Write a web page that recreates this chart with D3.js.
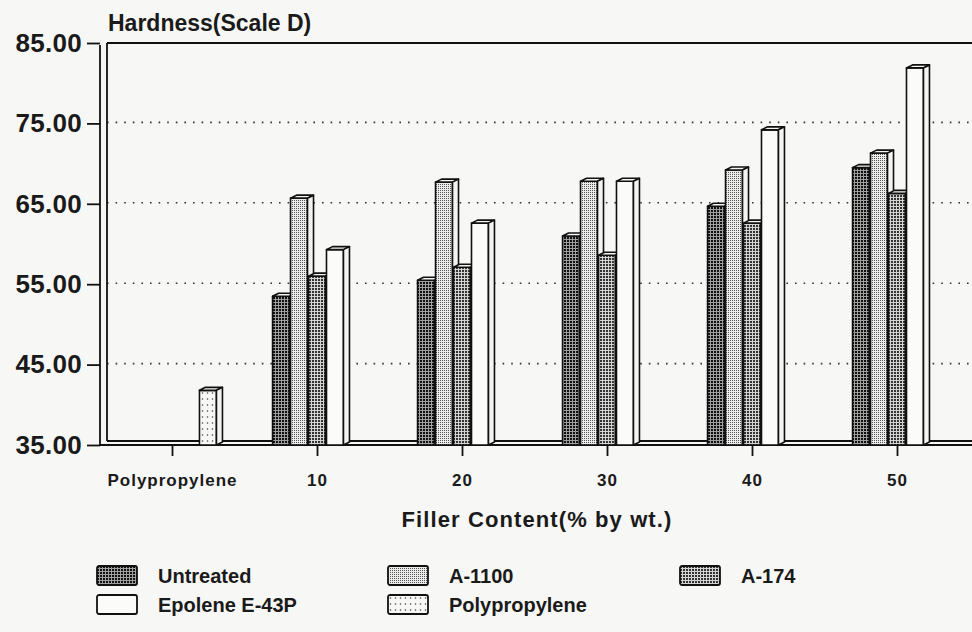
<!DOCTYPE html>
<html>
<head>
<meta charset="utf-8">
<script src="https://cdn.jsdelivr.net/npm/d3@7"></script>
<style>
  body { margin: 0; background: #f6f6f4; }
  svg { display: block; }
  text { font-family: "Liberation Sans", Arial, sans-serif; font-weight: bold; fill: #1a1a1a; }
</style>
</head>
<body>
<script>
// Data
var categories = ["Polypropylene", "10", "20", "30", "40", "50"];
var seriesNames = ["Untreated", "A-1100", "A-174", "Epolene E-43P", "Polypropylene"];
var untreated     = [null, 53.5, 55.5, 61.0, 64.7, 69.5];
var a1100         = [null, 65.7, 67.7, 67.8, 69.2, 71.3];
var a174          = [null, 56.0, 57.1, 58.6, 62.6, 66.3];
var epolene       = [null, 59.3, 62.6, 67.8, 74.2, 81.9];
var polypropylene = [41.8, null, null, null, null, null];
var yTicks = [35, 45, 55, 65, 75, 85];

var seriesValues = [untreated, a1100, a174, epolene, polypropylene];
var patternIds = ["pat-untreated", "pat-a1100", "pat-a174", "pat-epolene", "pat-pp"];

var width = 972, height = 632;
var depthX = 6, depthY = -3;

var svg = d3.select("body").append("svg")
    .attr("width", width)
    .attr("height", height);

svg.append("rect").attr("width", width).attr("height", height).attr("fill", "#f7f7f5");

// Fill patterns (scanned halftones)
var defs = svg.append("defs");
var p;
p = defs.append("pattern").attr("id", "pat-untreated").attr("patternUnits", "userSpaceOnUse")
    .attr("width", 3).attr("height", 3);
p.append("rect").attr("width", 3).attr("height", 3).attr("fill", "#a0a0a0");
p.append("rect").attr("width", 2).attr("height", 2).attr("fill", "#101010");

p = defs.append("pattern").attr("id", "pat-a1100").attr("patternUnits", "userSpaceOnUse")
    .attr("width", 2).attr("height", 2);
p.append("rect").attr("width", 2).attr("height", 2).attr("fill", "#ececec");
p.append("rect").attr("width", 1).attr("height", 1).attr("fill", "#555");

p = defs.append("pattern").attr("id", "pat-a174").attr("patternUnits", "userSpaceOnUse")
    .attr("width", 3).attr("height", 3);
p.append("rect").attr("width", 3).attr("height", 3).attr("fill", "#d4d4d4");
p.append("rect").attr("width", 2).attr("height", 2).attr("fill", "#333");

p = defs.append("pattern").attr("id", "pat-epolene").attr("patternUnits", "userSpaceOnUse")
    .attr("width", 4).attr("height", 4);
p.append("rect").attr("width", 4).attr("height", 4).attr("fill", "#fbfbfa");

p = defs.append("pattern").attr("id", "pat-pp").attr("patternUnits", "userSpaceOnUse")
    .attr("width", 5).attr("height", 6);
p.append("rect").attr("width", 5).attr("height", 6).attr("fill", "#f7f7f5");
p.append("circle").attr("cx", 2.5).attr("cy", 3).attr("r", 0.8).attr("fill", "#444");

// Scales
var x0 = d3.scaleBand()
    .domain(categories)
    .range([100, 970])
    .paddingInner(0.38)
    .paddingOuter(0.19);

var x1 = d3.scaleBand()
    .domain(seriesNames)
    .range([0, x0.bandwidth()]);

var y = d3.scaleLinear()
    .domain([35, 85])
    .range([445, 43]);

// Back wall grid (dotted)
svg.append("g").selectAll("line")
    .data(yTicks.filter(function(d) { return d > 35 && d < 85; }))
  .enter().append("line")
    .attr("x1", 107).attr("x2", width)
    .attr("y1", function(d) { return y(d) - 1; })
    .attr("y2", function(d) { return y(d) - 1; })
    .attr("stroke", "#333")
    .attr("stroke-width", 1.6)
    .attr("stroke-dasharray", "1.6,7");

// Walls and floor
var frame = svg.append("g").attr("stroke", "#111").attr("stroke-width", 1.8).attr("fill", "none");
frame.append("line").attr("x1", 107).attr("x2", width).attr("y1", y(85)).attr("y2", y(85));
frame.append("line").attr("x1", 107).attr("x2", 107).attr("y1", y(85)).attr("y2", y(35) + depthY - 1);
frame.append("line").attr("x1", 100).attr("x2", 100).attr("y1", y(85) + 2).attr("y2", y(35));
frame.append("line").attr("x1", 107).attr("x2", width).attr("y1", y(35) + depthY - 1).attr("y2", y(35) + depthY - 1);
frame.append("line").attr("x1", 100).attr("x2", width).attr("y1", y(35)).attr("y2", y(35));

// Bars
var barData = [];
categories.forEach(function(c, i) {
  seriesNames.forEach(function(s, j) {
    var v = seriesValues[j][i];
    if (v != null) barData.push({cat: c, series: s, value: v, pat: patternIds[j]});
  });
});

var bw = x1.bandwidth() - 1;
var bars = svg.append("g").selectAll("g")
    .data(barData)
  .enter().append("g")
    .attr("stroke", "#111")
    .attr("stroke-width", 1.6)
    .attr("stroke-linejoin", "round");

bars.append("rect")
    .attr("x", function(d) { return x0(d.cat) + x1(d.series); })
    .attr("y", function(d) { return y(d.value); })
    .attr("width", bw)
    .attr("height", function(d) { return y(35) - y(d.value); })
    .attr("fill", function(d) { return "url(#" + d.pat + ")"; });

bars.append("path")
    .attr("fill", "#f4f4f2")
    .attr("d", function(d) {
      var xl = x0(d.cat) + x1(d.series), yt = y(d.value);
      return "M" + xl + "," + yt + "L" + (xl + depthX) + "," + (yt + depthY) +
             "L" + (xl + bw + depthX) + "," + (yt + depthY) + "L" + (xl + bw) + "," + yt + "Z";
    });

bars.append("path")
    .attr("fill", "#f4f4f2")
    .attr("d", function(d) {
      var xr = x0(d.cat) + x1(d.series) + bw, yt = y(d.value), yb = y(35);
      return "M" + xr + "," + yt + "L" + (xr + depthX) + "," + (yt + depthY) +
             "L" + (xr + depthX) + "," + (yb + depthY) + "L" + xr + "," + yb + "Z";
    });

// Y axis
var yAxis = svg.append("g")
    .attr("transform", "translate(100,0)")
    .call(d3.axisLeft(y).tickValues(yTicks).tickFormat(d3.format(".2f")).tickSize(13).tickPadding(5));
yAxis.select(".domain").remove();
yAxis.selectAll(".tick line").attr("stroke", "#111").attr("stroke-width", 1.8);
yAxis.selectAll(".tick text")
    .style("font-size", "26px")
    .style("font-family", "'Liberation Sans', Arial, sans-serif")
    .style("font-weight", "bold")
    .style("letter-spacing", "0.3px")
    .attr("fill", "#1a1a1a");

// X axis
var xAxis = svg.append("g")
    .attr("transform", "translate(0," + y(35) + ")")
    .call(d3.axisBottom(x0).tickSize(11).tickPadding(18));
xAxis.select(".domain").remove();
xAxis.selectAll(".tick line").attr("stroke", "#111").attr("stroke-width", 1.8);
xAxis.selectAll(".tick text")
    .style("font-size", "17px")
    .style("font-family", "'Liberation Sans', Arial, sans-serif")
    .style("font-weight", "bold")
    .style("letter-spacing", "1px")
    .attr("fill", "#1a1a1a");

// Axis titles
svg.append("text")
    .attr("x", 108)
    .attr("y", 31)
    .style("font-size", "23px")
    .text("Hardness(Scale D)");

svg.append("text")
    .attr("x", 537)
    .attr("y", 527)
    .attr("text-anchor", "middle")
    .style("font-size", "22px")
    .style("letter-spacing", "1.1px")
    .text("Filler Content(% by wt.)");

// Legend
var legendCols = [97, 388, 680], legendRows = [566, 595];
var legend = svg.append("g").selectAll("g")
    .data(seriesNames)
  .enter().append("g")
    .attr("transform", function(d, i) {
      return "translate(" + legendCols[i % 3] + "," + legendRows[Math.floor(i / 3)] + ")";
    });

legend.append("rect")
    .attr("width", 40)
    .attr("height", 19)
    .attr("rx", 2)
    .attr("fill", function(d, i) { return "url(#" + patternIds[i] + ")"; })
    .attr("stroke", "#111")
    .attr("stroke-width", 1.8);

legend.append("text")
    .attr("x", 61)
    .attr("y", 17)
    .style("font-size", "20px")
    .text(function(d) { return d; });
</script>
</body>
</html>
